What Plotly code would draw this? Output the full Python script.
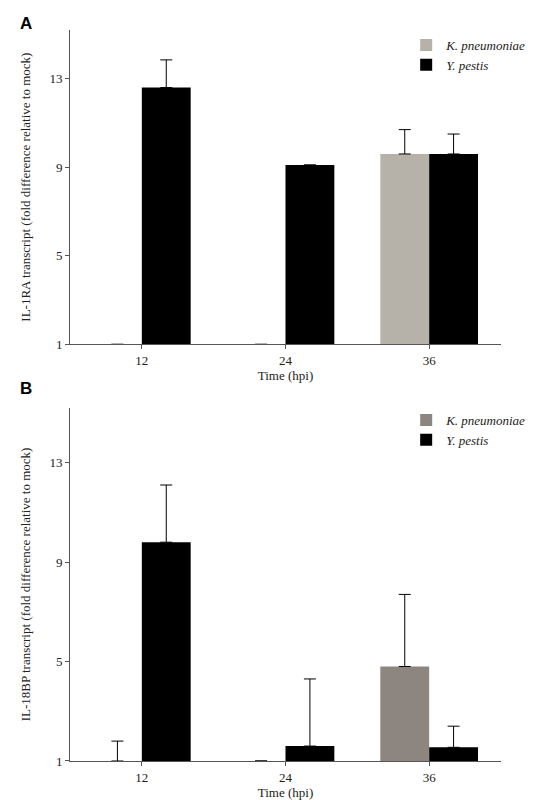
import plotly.graph_objects as go
from plotly.subplots import make_subplots

times = ["12", "24", "36"]

# panel A: IL-1RA
a_kp = [1.0, 1.0, 9.6]
a_kp_err = [0, 0, 1.1]
a_yp = [12.6, 9.1, 9.6]
a_yp_err = [1.25, 0, 0.9]

# panel B: IL-18BP
b_kp = [1.0, 1.0, 4.8]
b_kp_err = [0.8, 0, 2.9]
b_yp = [9.8, 1.6, 1.55]
b_yp_err = [2.3, 2.7, 0.85]

yticks = [1, 5, 9, 13]

fig = make_subplots(rows=2, cols=1, vertical_spacing=0.09)

def err(vals):
    return dict(type="data", array=vals, arrayminus=[0] * len(vals),
                color="black", thickness=1, width=6)

panels = [
    (1, a_kp, a_kp_err, a_yp, a_yp_err, "#b7b2a9"),
    (2, b_kp, b_kp_err, b_yp, b_yp_err, "#8c8580"),
]
for row, kp, kpe, yp, ype, kcol in panels:
    fig.add_trace(go.Bar(x=times, y=kp, name="K. pneumoniae", marker_color=kcol,
                         marker_line_width=0,
                         error_y=err(kpe), legend="legend" if row == 1 else "legend2"),
                  row=row, col=1)
    fig.add_trace(go.Bar(x=times, y=yp, name="Y. pestis", marker_color="black",
                         marker_line_width=0,
                         error_y=err(ype), legend="legend" if row == 1 else "legend2"),
                  row=row, col=1)

font = dict(family="Liberation Serif, Times New Roman, serif", size=13, color="#222")
ax = dict(showline=True, linecolor="#555", linewidth=1, showgrid=False,
          ticks="outside", tickcolor="#555", ticklen=4, tickfont=font)
fig.update_xaxes(**ax, title=dict(text="Time (hpi)", font=font, standoff=2))
fig.update_yaxes(**ax, range=[1, 15.2], tickvals=yticks)
fig.update_yaxes(title=dict(text="IL-1RA transcript (fold difference relative to mock)", font=font), row=1, col=1)
fig.update_yaxes(title=dict(text="IL-18BP transcript (fold difference relative to mock)", font=font), row=2, col=1)
fig.update_layout(
    xaxis=dict(domain=[0, 1]), yaxis=dict(domain=[0.57, 1.0]),
    yaxis2=dict(domain=[0, 0.483]),
)

leg_font = dict(family="Liberation Serif, serif", size=13, color="#222", style="italic")
fig.update_layout(
    width=535, height=800, barmode="group", bargap=0.32, bargroupgap=0,
    plot_bgcolor="white", paper_bgcolor="white",
    margin=dict(l=62, r=30, t=22, b=47),
    legend=dict(x=0.78, y=1.0, yanchor="top", font=leg_font, bgcolor="rgba(0,0,0,0)"),
    legend2=dict(x=0.78, y=0.487, yanchor="top", font=leg_font, bgcolor="rgba(0,0,0,0)"),
    annotations=[
        dict(text="<b>A</b>", x=-0.12, y=1.025, xref="paper", yref="paper", showarrow=False,
             font=dict(family="Liberation Sans, Arial", size=17, color="black")),
        dict(text="<b>B</b>", x=-0.12, y=0.51, xref="paper", yref="paper", showarrow=False,
             font=dict(family="Liberation Sans, Arial", size=17, color="black")),
    ],
)

fig.write_html("out.html")
